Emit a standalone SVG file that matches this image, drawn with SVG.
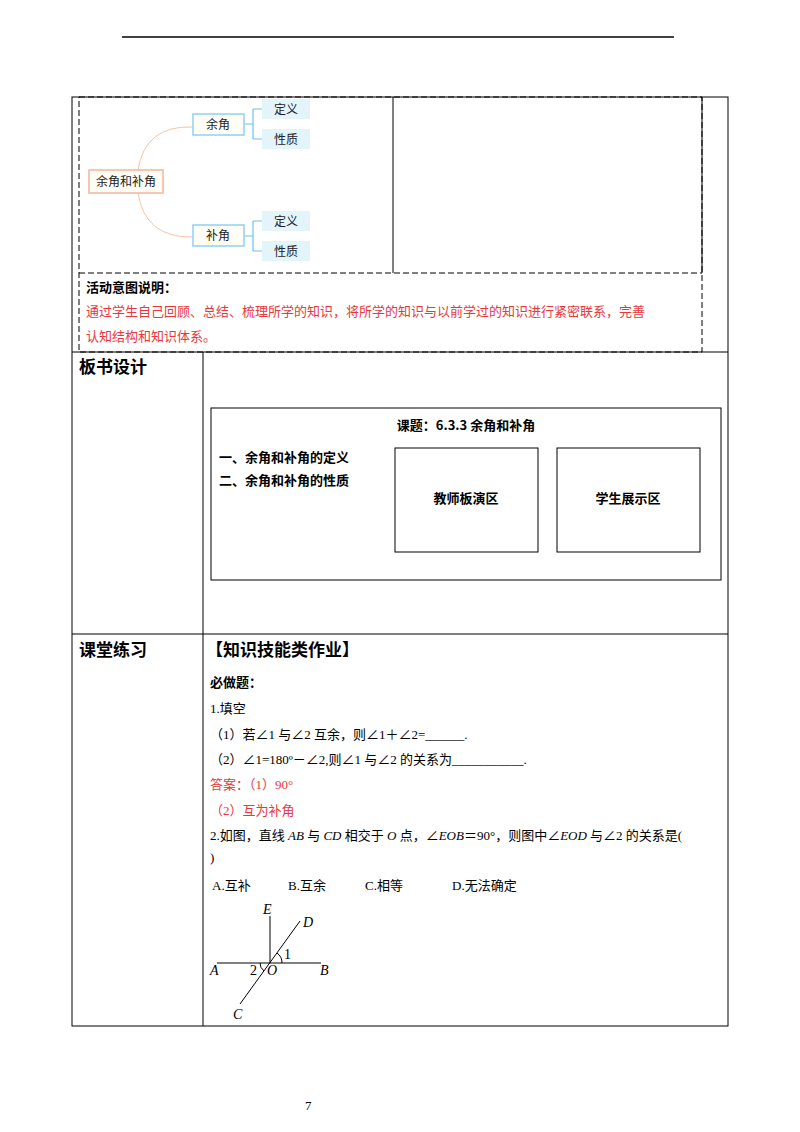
<svg xmlns="http://www.w3.org/2000/svg" width="800" height="1132" viewBox="0 0 800 1132">
<style>
text{font-family:"Noto Sans CJK SC","Liberation Sans",sans-serif;font-size:13px;fill:#000}
.b{font-weight:bold}
.h{font-weight:bold;font-size:17px}
.r{fill:#e8383d}
.t{font-family:"Liberation Serif","Noto Sans CJK SC",serif;font-size:13px}
.fi{font-family:"Liberation Serif",serif;font-style:italic;font-size:14px}
.fn{font-family:"Liberation Serif",serif;font-size:14px}
.ln{stroke:#000;stroke-width:1;fill:none}
.d{stroke:#000;stroke-width:1;stroke-dasharray:6,3;fill:none}
.mm{font-size:12px;fill:#222}
</style>
<rect width="800" height="1132" fill="#fff"/>
<line x1="122" y1="37" x2="674" y2="37" stroke="#000" stroke-width="1.5"/>
<g id="table">
<rect x="72" y="97" width="656" height="929" class="ln"/>
<line x1="72" y1="352" x2="728" y2="352" class="ln"/>
<line x1="72" y1="634" x2="728" y2="634" class="ln"/>
<line x1="203" y1="352" x2="203" y2="1026" class="ln"/>
<rect x="79" y="97" width="623" height="255" class="d"/>
<line x1="79" y1="273" x2="702" y2="273" class="d"/>
<line x1="393" y1="97" x2="393" y2="273" class="ln"/>
<line x1="702" y1="97" x2="702" y2="273" class="ln"/>
</g>
<g id="connectors" fill="none">
<path d="M138,170 Q145,125 193,127" stroke="#f7c3a7" stroke-width="1"/>
<path d="M138,193 Q145,238 193,237" stroke="#f7c3a7" stroke-width="1"/>
<path d="M244,124 H253 M253,109 V139 M253,109 H262 M253,139 H262" stroke="#6cc4ec" stroke-width="1.2"/>
<path d="M244,236 H253 M253,221 V251 M253,221 H262 M253,251 H262" stroke="#6cc4ec" stroke-width="1.2"/>
</g>
<g id="n-root"><rect x="89" y="170" width="74" height="23" fill="#fffdf5" stroke="#f5b49a" stroke-width="1.5"/><text x="126" y="186" text-anchor="middle" class="mm">余角和补角</text></g>
<g id="n-yu"><rect x="193" y="114" width="51" height="21" fill="#fffdf5" stroke="#8fd2f0" stroke-width="1.5"/><text x="218" y="129" text-anchor="middle" class="mm">余角</text></g>
<g id="n-bu"><rect x="193" y="225" width="51" height="21" fill="#fffdf5" stroke="#8fd2f0" stroke-width="1.5"/><text x="218" y="240" text-anchor="middle" class="mm">补角</text></g>
<g id="n-yu1"><rect x="262" y="99" width="48" height="20" fill="#e3f4fb"/><text x="286" y="114" text-anchor="middle" class="mm">定义</text></g>
<g id="n-yu2"><rect x="262" y="129" width="48" height="20" fill="#e3f4fb"/><text x="286" y="144" text-anchor="middle" class="mm">性质</text></g>
<g id="n-bu1"><rect x="262" y="211" width="48" height="20" fill="#e3f4fb"/><text x="286" y="226" text-anchor="middle" class="mm">定义</text></g>
<g id="n-bu2"><rect x="262" y="241" width="48" height="20" fill="#e3f4fb"/><text x="286" y="256" text-anchor="middle" class="mm">性质</text></g>
<text x="86" y="292" class="b" font-size="15">活动意图说明：</text>
<text x="86" y="316" class="r">通过学生自己回顾、总结、梳理所学的知识，将所学的知识与以前学过的知识进行紧密联系，完善</text>
<text x="86" y="341" class="r">认知结构和知识体系。</text>
<text x="79" y="373" class="h">板书设计</text>
<g id="board">
<rect x="211" y="408" width="510" height="172" class="ln"/>
<text x="466" y="430" text-anchor="middle" class="b" font-size="14">课题：6.3.3  余角和补角</text>
<text x="219" y="462" class="b">一、余角和补角的定义</text>
<text x="219" y="485" class="b">二、余角和补角的性质</text>
<rect x="395" y="448" width="143" height="104" class="ln"/>
<text x="466" y="503" text-anchor="middle" class="b" font-size="16">教师板演区</text>
<rect x="557" y="448" width="143" height="104" class="ln"/>
<text x="628" y="503" text-anchor="middle" class="b" font-size="16">学生展示区</text>
</g>
<text x="79" y="656" class="h">课堂练习</text>
<text x="206" y="656" class="h">【知识技能类作业】</text>
<text x="210" y="687" class="b" font-size="14">必做题：</text>
<text x="210" y="713" class="t">1.填空</text>
<text x="210" y="739" class="t">（1）若∠1 与∠2 互余，则∠1＋∠2=______.</text>
<text x="210" y="764" class="t">（2）∠1=180º－∠2,则∠1 与∠2 的关系为___________.</text>
<text x="210" y="789" class="t r">答案：（1）90°</text>
<text x="210" y="815" class="t r">（2）互为补角</text>
<text x="210" y="840" class="t">2.如图，直线 <tspan font-style="italic">AB</tspan> 与 <tspan font-style="italic">CD</tspan> 相交于 <tspan font-style="italic">O</tspan> 点，∠<tspan font-style="italic">EOB</tspan>＝90°，则图中∠<tspan font-style="italic">EOD</tspan> 与∠2 的关系是(</text>
<text x="210" y="862" class="t">)</text>
<text x="212" y="890" class="t">A.互补</text>
<text x="288" y="890" class="t">B.互余</text>
<text x="365" y="890" class="t">C.相等</text>
<text x="452" y="890" class="t">D.无法确定</text>
<g id="figure" class="ln">
<line x1="217" y1="963" x2="321" y2="963"/>
<line x1="270" y1="916" x2="270" y2="963"/>
<line x1="300" y1="921" x2="240" y2="1004"/>
<path d="M282,963 A12,12 0 0 0 277,953"/>
<path d="M260,963 A10,10 0 0 0 264,971"/>
</g>
<text x="263" y="914" class="fi">E</text><text x="303" y="927" class="fi">D</text><text x="210" y="975" class="fi">A</text>
<text x="267" y="975" class="fi">O</text><text x="320" y="975" class="fi">B</text><text x="233" y="1019" class="fi">C</text>
<text x="284" y="959" class="fn">1</text><text x="250" y="975" class="fn">2</text>
<text x="305" y="1110" class="t" font-size="10">7</text>
</svg>
